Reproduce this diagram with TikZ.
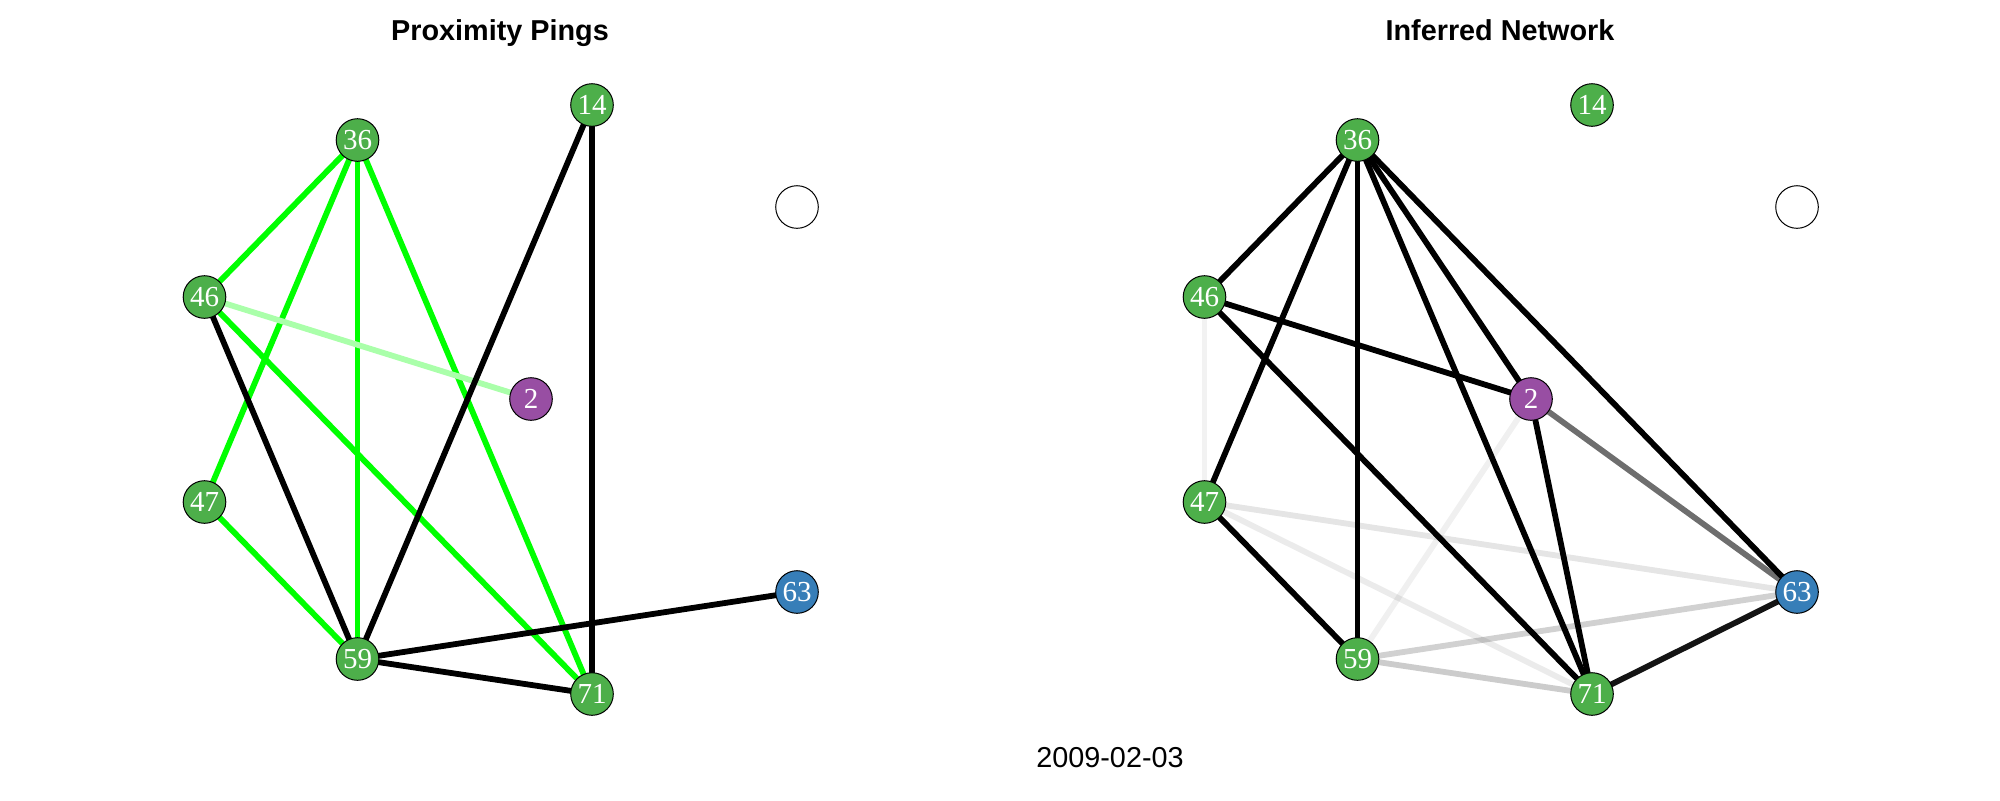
\documentclass[tikz,border=0pt]{standalone}
\usepackage{fontspec}
\setmainfont{Liberation Serif}
\newfontfamily\titlefont{Liberation Sans}
\pgfdeclarelayer{back}
\pgfdeclarelayer{bg}
\pgfsetlayers{back,bg,main}
\definecolor{ngreen}{HTML}{4DAF4A}
\definecolor{npurple}{HTML}{984EA3}
\definecolor{nblue}{HTML}{377EB8}
\definecolor{egreen}{HTML}{00FF00}
\definecolor{elgreen}{HTML}{AAFFAA}
\tikzset{
  vtx/.style={circle, draw=black, line width=0.5pt, minimum size=21.3pt, inner sep=0pt, text=white, font=\fontsize{14.5}{14.5}\selectfont},
  gv/.style={vtx, fill=ngreen},
  pv/.style={vtx, fill=npurple},
  bv/.style={vtx, fill=nblue},
  ev/.style={vtx, fill=white},
  edg/.style={line width=2.9pt},
  bl/.style={edg, draw=black},
  gr/.style={edg, draw=egreen},
  lg/.style={edg, draw=elgreen},
  gy/.style={edg, draw=black, draw opacity=#1},
  ttl/.style={font=\titlefont\bfseries\fontsize{14.4}{14.4}\selectfont, anchor=base},
  dte/.style={font=\titlefont\fontsize{14.4}{14.4}\selectfont, anchor=base}
}
\begin{document}
\begin{tikzpicture}[x=0.5pt,y=-0.5pt]
\useasboundingbox (0,0) rectangle (2000,800);
\begin{pgfonlayer}{back}
\fill[white] (0,0) rectangle (2000,800);
\end{pgfonlayer}
% titles
\node[ttl] (t1) at (500,40) {Proximity Pings};
\node[ttl] (t2) at (1500,40) {Inferred Network};
\node[dte] (dt) at (1110,767) {2009-02-03};
% left panel nodes
\node[gv] (a14) at (592,105) {14};
\node[gv] (a36) at (357.5,140) {36};
\node[ev] (aE) at (797,207) {};
\node[gv] (a46) at (204.5,297) {46};
\node[pv] (a2) at (531,399) {2};
\node[gv] (a47) at (204.5,502) {47};
\node[bv] (a63) at (797,592) {63};
\node[gv] (a59) at (357.5,659) {59};
\node[gv] (a71) at (592,694) {71};
% right panel nodes
\node[gv] (b14) at (1592,105) {14};
\node[gv] (b36) at (1357.5,140) {36};
\node[ev] (bE) at (1797,207) {};
\node[gv] (b46) at (1204.5,297) {46};
\node[pv] (b2) at (1531,399) {2};
\node[gv] (b47) at (1204.5,502) {47};
\node[bv] (b63) at (1797,592) {63};
\node[gv] (b59) at (1357.5,659) {59};
\node[gv] (b71) at (1592,694) {71};
\begin{pgfonlayer}{bg}
% left edges
\draw[gr] (a36.center) -- (a46.center);
\draw[gr] (a36.center) -- (a47.center);
\draw[gr] (a36.center) -- (a59.center);
\draw[gr] (a36.center) -- (a71.center);
\draw[gr] (a46.center) -- (a71.center);
\draw[gr] (a47.center) -- (a59.center);
\draw[lg] (a46.center) -- (a2.center);
\draw[bl] (a46.center) -- (a59.center);
\draw[bl] (a14.center) -- (a59.center);
\draw[bl] (a14.center) -- (a71.center);
\draw[bl] (a59.center) -- (a63.center);
\draw[bl] (a59.center) -- (a71.center);
% right edges
\draw[gy=0.05] (b46.center) -- (b47.center);
\draw[gy=0.06] (b2.center) -- (b59.center);
\draw[gy=0.10] (b47.center) -- (b63.center);
\draw[gy=0.08] (b47.center) -- (b71.center);
\draw[gy=0.18] (b59.center) -- (b63.center);
\draw[gy=0.20] (b59.center) -- (b71.center);
\draw[gy=0.57] (b2.center) -- (b63.center);
\draw[bl] (b36.center) -- (b46.center);
\draw[bl] (b36.center) -- (b47.center);
\draw[bl] (b36.center) -- (b59.center);
\draw[bl] (b36.center) -- (b71.center);
\draw[bl] (b36.center) -- (b2.center);
\draw[bl] (b36.center) -- (b63.center);
\draw[bl] (b46.center) -- (b2.center);
\draw[bl] (b46.center) -- (b71.center);
\draw[bl] (b47.center) -- (b59.center);
\draw[bl] (b2.center) -- (b71.center);
\draw[gy=0.92] (b63.center) -- (b71.center);
\end{pgfonlayer}
\end{tikzpicture}
\end{document}
